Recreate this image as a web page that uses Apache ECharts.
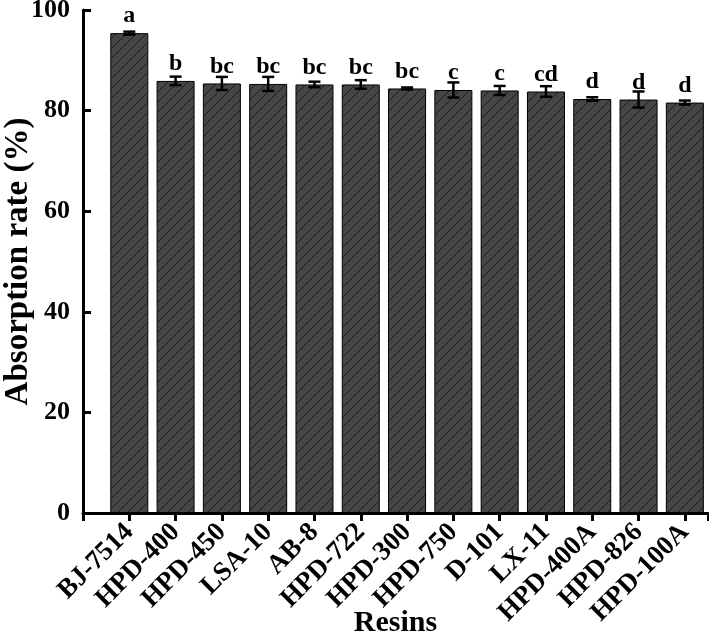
<!DOCTYPE html>
<html>
<head>
<meta charset="utf-8">
<script src="https://cdn.jsdelivr.net/npm/echarts@6/dist/echarts.min.js"></script>
<style>
  html, body { margin: 0; padding: 0; background: #fff; }
  #chart { width: 709px; height: 638px; }
</style>
</head>
<body>
<div id="chart"></div>
<script>
// resins, absorption rate (%) with SD and significance letters
const resins = ['BJ-7514', 'HPD-400', 'HPD-450', 'LSA-10', 'AB-8', 'HPD-722', 'HPD-300',
  'HPD-750', 'D-101', 'LX-11', 'HPD-400A', 'HPD-826', 'HPD-100A'];
const rates = [95.4, 85.9, 85.4, 85.3, 85.2, 85.2, 84.4, 84.1, 84.0, 83.8, 82.3, 82.2, 81.6];
const errors = [0.3, 0.85, 1.3, 1.4, 0.55, 0.85, 0.2, 1.5, 0.9, 1.05, 0.35, 1.6, 0.4];
const letters = ['a', 'b', 'bc', 'bc', 'bc', 'bc', 'bc', 'c', 'c', 'cd', 'd', 'd', 'd'];

const FONT = '"Liberation Serif", "Times New Roman", serif';

// hatch pattern for the bars
function hatch() {
  const s = 10;
  const c = document.createElement('canvas');
  c.width = s;
  c.height = s;
  const ctx = c.getContext('2d');
  ctx.fillStyle = '#464646';
  ctx.fillRect(0, 0, s, s);
  ctx.strokeStyle = '#1c1c1c';
  ctx.lineWidth = 1;
  ctx.beginPath();
  ctx.moveTo(-1, s + 1); ctx.lineTo(s + 1, -1);
  ctx.moveTo(-1, 1); ctx.lineTo(1, -1);
  ctx.moveTo(s - 1, s + 1); ctx.lineTo(s + 1, s - 1);
  ctx.stroke();
  return c;
}

const chart = echarts.init(document.getElementById('chart'));

chart.setOption({
  animation: false,
  grid: { left: 83, right: 1, top: 10, bottom: 125, containLabel: false, outerBoundsMode: 'none' },
  xAxis: {
    type: 'value',
    min: 0,
    max: 13.5,
    interval: 1,
    name: 'Resins',
    nameLocation: 'middle',
    nameGap: 95,
    nameMoveOverlap: false,
    nameTextStyle: { fontFamily: FONT, fontWeight: 'bold', fontSize: 30, color: '#000' },
    axisLine: { show: true, lineStyle: { color: '#000', width: 3 } },
    axisTick: { show: true, inside: false, length: 8, lineStyle: { color: '#000', width: 3 } },
    axisLabel: {
      rotate: 45,
      margin: 15,
      fontFamily: FONT,
      fontWeight: 'bold',
      fontSize: 27,
      color: '#000',
      formatter: function (v) {
        if (Math.round(v) !== v || v < 1 || v > resins.length) return '';
        return resins[v - 1];
      }
    },
    splitLine: { show: false }
  },
  yAxis: {
    type: 'value',
    min: 0,
    max: 100,
    interval: 20,
    name: 'Absorption rate (%)',
    nameLocation: 'middle',
    nameGap: 48,
    nameMoveOverlap: false,
    nameTextStyle: { fontFamily: FONT, fontWeight: 'bold', fontSize: 33, color: '#000' },
    axisLine: { show: true, lineStyle: { color: '#000', width: 3 } },
    axisTick: { show: true, inside: true, length: 8, lineStyle: { color: '#000', width: 3 } },
    axisLabel: {
      margin: 13,
      fontFamily: FONT,
      fontWeight: 'bold',
      fontSize: 26,
      color: '#000'
    },
    splitLine: { show: false }
  },
  series: [
    {
      type: 'bar',
      barWidth: 38,
      data: rates.map((v, i) => [i + 1, v]),
      itemStyle: {
        color: { image: hatch(), repeat: 'repeat' },
        borderColor: '#000',
        borderWidth: 1
      },
      label: {
        show: true,
        position: 'top',
        distance: 5,
        fontFamily: FONT,
        fontWeight: 'bold',
        fontSize: 24,
        lineHeight: 24,
        color: '#000',
        formatter: p => letters[p.dataIndex]
      },
      z: 2
    },
    {
      type: 'custom',
      data: rates.map((v, i) => [i + 1, v - errors[i], v + errors[i]]),
      renderItem: function (params, api) {
        const lo = api.coord([api.value(0), api.value(1)]);
        const hi = api.coord([api.value(0), api.value(2)]);
        const w = 6;
        const style = { stroke: '#000', lineWidth: 2.5 };
        return {
          type: 'group',
          children: [
            { type: 'line', shape: { x1: lo[0], y1: lo[1], x2: hi[0], y2: hi[1] }, style: style },
            { type: 'line', shape: { x1: lo[0] - w, y1: lo[1], x2: lo[0] + w, y2: lo[1] }, style: style },
            { type: 'line', shape: { x1: hi[0] - w, y1: hi[1], x2: hi[0] + w, y2: hi[1] }, style: style }
          ]
        };
      },
      z: 3
    }
  ]
});
</script>
</body>
</html>
